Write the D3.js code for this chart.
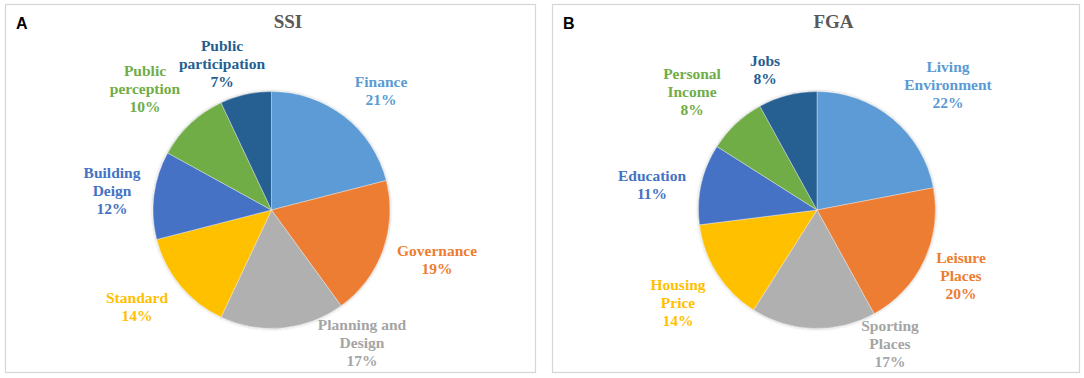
<!DOCTYPE html>
<html>
<head>
<meta charset="utf-8">
<script src="https://cdn.jsdelivr.net/npm/d3@7"></script>
<style>
  body { margin: 0; background: #fff; }
  svg { display: block; }
</style>
</head>
<body>
<svg width="1084" height="378"></svg>
<script>
// panel A: SSI
var ssiCategories = ['Finance', 'Governance', 'Planning and\nDesign', 'Standard', 'Building\nDeign', 'Public\nperception', 'Public\nparticipation'];
var ssiValues = [21, 19, 17, 14, 12, 10, 7];

// panel B: FGA
var fgaCategories = ['Living\nEnvironment', 'Leisure\nPlaces', 'Sporting\nPlaces', 'Housing\nPrice', 'Education', 'Personal\nIncome', 'Jobs'];
var fgaValues = [22, 20, 17, 14, 11, 8, 8];

var colors = ['#5B9BD5', '#ED7D31', '#B0B0B0', '#FFC000', '#4472C4', '#70AD47', '#255E91'];
var labelColors = ['#5B9BD5', '#ED7D31', '#A5A5A5', '#FFC000', '#4472C4', '#70AD47', '#255E91'];

// label block centres, offset from the pie centre (Excel "best fit" placement)
var ssiLabelPos = [[109.5, -119], [165.5, 50], [90.5, 133], [-134.5, 97], [-159.5, -19.5], [-126.5, -121], [-49.5, -146]];
var fgaLabelPos = [[131, -125.5], [144, 66], [73, 134], [-139, 92.5], [-165, -25.5], [-125, -118], [-52, -140.5]];

var svg = d3.select('svg');

var defs = svg.append('defs');
defs.append('filter')
    .attr('id', 'shadow')
    .attr('x', '-10%').attr('y', '-10%')
    .attr('width', '120%').attr('height', '120%')
  .append('feDropShadow')
    .attr('dx', 0).attr('dy', 0)
    .attr('stdDeviation', 1.6)
    .attr('flood-color', '#000')
    .attr('flood-opacity', 0.28);

drawPanel({
    x: 5, width: 530, letter: 'A', title: 'SSI',
    cx: 271.5, cy: 210, r: 118.5,
    categories: ssiCategories, values: ssiValues, labelPos: ssiLabelPos
});

drawPanel({
    x: 552, width: 527, letter: 'B', title: 'FGA',
    cx: 817, cy: 210, r: 118.5,
    categories: fgaCategories, values: fgaValues, labelPos: fgaLabelPos
});

function drawPanel(p) {
    var g = svg.append('g');
    var lineHeight = 18;

    g.append('rect')
        .attr('x', p.x + 0.5)
        .attr('y', 4.5)
        .attr('width', p.width)
        .attr('height', 368)
        .attr('fill', '#fff')
        .attr('stroke', '#d6d6d6')
        .attr('stroke-width', 1.2);

    g.append('text')
        .attr('x', p.x + 11)
        .attr('y', 29)
        .attr('font-family', "'Liberation Sans', Arial, sans-serif")
        .attr('font-weight', 'bold')
        .attr('font-size', 16)
        .attr('fill', '#000')
        .text(p.letter);

    g.append('text')
        .attr('x', p.cx + 16.5)
        .attr('y', 28)
        .attr('text-anchor', 'middle')
        .attr('font-family', "'Liberation Serif', 'Times New Roman', serif")
        .attr('font-weight', 'bold')
        .attr('font-size', 19)
        .attr('fill', '#595959')
        .text(p.title);

    var pie = d3.pie().sort(null).value(d => d);
    var arc = d3.arc().innerRadius(0).outerRadius(p.r);
    var arcs = pie(p.values);

    var pieG = g.append('g')
        .attr('transform', 'translate(' + p.cx + ',' + p.cy + ')');

    pieG.append('g')
        .attr('filter', 'url(#shadow)')
        .selectAll('path')
        .data(arcs)
        .enter().append('path')
        .attr('d', arc)
        .attr('fill', (d, i) => colors[i])
        .attr('stroke', '#f4f4f4')
        .attr('stroke-width', 0.4);

    var total = d3.sum(p.values);
    var labels = pieG.selectAll('text.lbl')
        .data(arcs)
        .enter().append('text')
        .attr('class', 'lbl')
        .attr('text-anchor', 'middle')
        .attr('font-family', "'Liberation Serif', 'Times New Roman', serif")
        .attr('font-weight', 'bold')
        .attr('font-size', 15.5)
        .attr('fill', (d, i) => labelColors[i]);

    labels.each(function (d, i) {
        var lines = p.categories[i].split('\n');
        lines.push(Math.round(d.value / total * 100) + '%');
        var pos = p.labelPos[i];
        var firstBaseline = pos[1] + 5 - (lines.length - 1) * lineHeight / 2;
        d3.select(this).selectAll('tspan')
            .data(lines)
            .enter().append('tspan')
            .attr('x', pos[0])
            .attr('y', (l, j) => firstBaseline + j * lineHeight)
            .text(l => l);
    });
}
</script>
</body>
</html>
